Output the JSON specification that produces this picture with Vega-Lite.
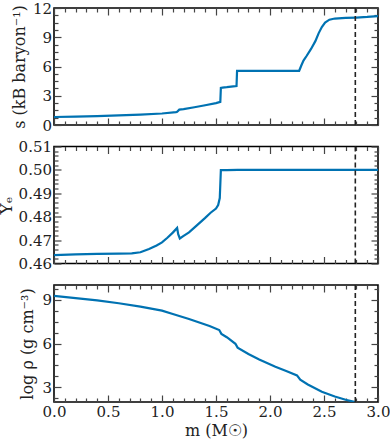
{
  "$schema": "https://vega.github.io/schema/vega-lite/v6.json",
  "padding": {"left": -4, "top": 0, "right": 0, "bottom": 0},
  "spacing": 21.5,
  "bounds": "flush",
  "config": {
    "font": "DejaVu Serif",
    "view": {"stroke": "black", "strokeWidth": 1.6},
    "axis": {
      "labelFont": "DejaVu Serif", "labelFontSize": 15, "labelColor": "#222",
      "titleFont": "DejaVu Serif", "titleFontSize": 16, "titleFontWeight": "normal", "titleColor": "#222",
      "domain": false, "grid": false, "tickColor": "#444", "tickWidth": 1.2,
      "labelOverlap": false, "labelFlush": false
    }
  },
  "datasets": {
    "s": [
      {"m": 0, "v": 0.82}, {"m": 0.2, "v": 0.86}, {"m": 0.4, "v": 0.91}, {"m": 0.6, "v": 0.98},
      {"m": 0.8, "v": 1.07}, {"m": 1.0, "v": 1.18}, {"m": 1.13, "v": 1.32}, {"m": 1.14, "v": 1.36},
      {"m": 1.16, "v": 1.58}, {"m": 1.2, "v": 1.63}, {"m": 1.3, "v": 1.82}, {"m": 1.4, "v": 2.03},
      {"m": 1.5, "v": 2.25}, {"m": 1.54, "v": 2.38}, {"m": 1.545, "v": 3.8}, {"m": 1.56, "v": 3.84},
      {"m": 1.6, "v": 3.88}, {"m": 1.66, "v": 3.96}, {"m": 1.69, "v": 4.0}, {"m": 1.695, "v": 5.55},
      {"m": 1.75, "v": 5.55}, {"m": 2.0, "v": 5.55}, {"m": 2.27, "v": 5.56}, {"m": 2.29, "v": 6.1},
      {"m": 2.31, "v": 6.6}, {"m": 2.34, "v": 7.1}, {"m": 2.38, "v": 7.8}, {"m": 2.42, "v": 8.6},
      {"m": 2.45, "v": 9.4}, {"m": 2.48, "v": 10.05}, {"m": 2.51, "v": 10.5}, {"m": 2.55, "v": 10.8},
      {"m": 2.6, "v": 10.92}, {"m": 2.7, "v": 10.98}, {"m": 2.8, "v": 11.02}, {"m": 2.9, "v": 11.08},
      {"m": 3.0, "v": 11.17}
    ],
    "ye": [
      {"m": 0, "v": 0.4636}, {"m": 0.2, "v": 0.4639}, {"m": 0.4, "v": 0.4641}, {"m": 0.6, "v": 0.4642},
      {"m": 0.72, "v": 0.4643}, {"m": 0.8, "v": 0.4648}, {"m": 0.88, "v": 0.4662}, {"m": 0.95, "v": 0.4677},
      {"m": 1.0, "v": 0.469}, {"m": 1.05, "v": 0.471}, {"m": 1.1, "v": 0.4732}, {"m": 1.14, "v": 0.4752},
      {"m": 1.15, "v": 0.4725}, {"m": 1.165, "v": 0.4707}, {"m": 1.2, "v": 0.4718}, {"m": 1.25, "v": 0.4733},
      {"m": 1.32, "v": 0.4762}, {"m": 1.4, "v": 0.4795}, {"m": 1.45, "v": 0.4817}, {"m": 1.5, "v": 0.4835},
      {"m": 1.52, "v": 0.485}, {"m": 1.535, "v": 0.488}, {"m": 1.545, "v": 0.4999}, {"m": 1.6, "v": 0.4999},
      {"m": 1.7, "v": 0.5}, {"m": 3.0, "v": 0.5}
    ],
    "rho": [
      {"m": 0, "v": 9.25}, {"m": 0.2, "v": 9.1}, {"m": 0.4, "v": 8.95}, {"m": 0.6, "v": 8.75},
      {"m": 0.8, "v": 8.52}, {"m": 1.0, "v": 8.25}, {"m": 1.1, "v": 8.02}, {"m": 1.25, "v": 7.68},
      {"m": 1.44, "v": 7.2}, {"m": 1.53, "v": 6.92}, {"m": 1.55, "v": 6.66}, {"m": 1.6, "v": 6.43},
      {"m": 1.68, "v": 5.98}, {"m": 1.7, "v": 5.72}, {"m": 1.8, "v": 5.28}, {"m": 1.9, "v": 4.9},
      {"m": 2.05, "v": 4.41}, {"m": 2.15, "v": 4.12}, {"m": 2.25, "v": 3.82}, {"m": 2.28, "v": 3.52},
      {"m": 2.35, "v": 3.2}, {"m": 2.48, "v": 2.7}, {"m": 2.6, "v": 2.38}, {"m": 2.7, "v": 2.15},
      {"m": 2.79, "v": 2.0}
    ],
    "cut_s": [{"m": 2.79, "lo": 0, "hi": 12}],
    "cut_ye": [{"m": 2.79, "lo": 0.46, "hi": 0.51}],
    "cut_rho": [{"m": 2.79, "lo": 2, "hi": 10}]
  },
  "vconcat": [
    {
      "width": 324, "height": 117,
      "layer": [
        {
          "data": {"name": "s"},
          "mark": {"type": "line", "color": "#0072b2", "strokeWidth": 2.2, "clip": true},
          "encoding": {
            "x": {"field": "m", "type": "quantitative", "scale": {"domain": [0, 3], "nice": false, "zero": false},
              "axis": {"orient": "bottom", "labels": false, "title": null,
                "values": [0,0.1,0.2,0.3,0.4,0.5,0.6,0.7,0.8,0.9,1,1.1,1.2,1.3,1.4,1.5,1.6,1.7,1.8,1.9,2,2.1,2.2,2.3,2.4,2.5,2.6,2.7,2.8,2.9,3],
                "tickSize": {"condition": {"test": "abs(datum.value*2 - round(datum.value*2)) < 0.000001", "value": -7}, "value": -4}}},
            "y": {"field": "v", "type": "quantitative", "scale": {"domain": [0, 12], "nice": false},
              "axis": {"orient": "left", "title": "s (kB baryon⁻¹)", "titlePadding": 5,
                "values": [0,0.75,1.5,2.25,3,3.75,4.5,5.25,6,6.75,7.5,8.25,9,9.75,10.5,11.25,12],
                "labelExpr": "abs(datum.value/3 - round(datum.value/3)) < 0.000001 ? format(datum.value, 'd') : ''",
                "labelPadding": 9.5,
                "tickSize": {"condition": {"test": "abs(datum.value/3 - round(datum.value/3)) < 0.000001", "value": -7}, "value": -4}}}
          }
        },
        {
          "data": {"name": "cut_s"},
          "mark": {"type": "rule", "color": "#222", "strokeWidth": 1.6, "strokeDash": [5, 3]},
          "encoding": {
            "x": {"field": "m", "type": "quantitative",
              "axis": {"orient": "top", "labels": false, "title": null,
                "values": [0,0.1,0.2,0.3,0.4,0.5,0.6,0.7,0.8,0.9,1,1.1,1.2,1.3,1.4,1.5,1.6,1.7,1.8,1.9,2,2.1,2.2,2.3,2.4,2.5,2.6,2.7,2.8,2.9,3],
                "tickSize": {"condition": {"test": "abs(datum.value*2 - round(datum.value*2)) < 0.000001", "value": -7}, "value": -4}}},
            "y": {"field": "lo", "type": "quantitative",
              "axis": {"orient": "right", "labels": false, "title": null,
                "values": [0,0.75,1.5,2.25,3,3.75,4.5,5.25,6,6.75,7.5,8.25,9,9.75,10.5,11.25,12],
                "tickSize": {"condition": {"test": "abs(datum.value/3 - round(datum.value/3)) < 0.000001", "value": -7}, "value": -4}}},
            "y2": {"field": "hi"}
          }
        }
      ],
      "resolve": {"axis": {"x": "independent", "y": "independent"}}
    },
    {
      "width": 324, "height": 117,
      "layer": [
        {
          "data": {"name": "ye"},
          "mark": {"type": "line", "color": "#0072b2", "strokeWidth": 2.2, "clip": true},
          "encoding": {
            "x": {"field": "m", "type": "quantitative", "scale": {"domain": [0, 3], "nice": false, "zero": false},
              "axis": {"orient": "bottom", "labels": false, "title": null,
                "values": [0,0.1,0.2,0.3,0.4,0.5,0.6,0.7,0.8,0.9,1,1.1,1.2,1.3,1.4,1.5,1.6,1.7,1.8,1.9,2,2.1,2.2,2.3,2.4,2.5,2.6,2.7,2.8,2.9,3],
                "tickSize": {"condition": {"test": "abs(datum.value*2 - round(datum.value*2)) < 0.000001", "value": -7}, "value": -4}}},
            "y": {"field": "v", "type": "quantitative", "scale": {"domain": [0.46, 0.51], "nice": false, "zero": false},
              "axis": {"orient": "left", "title": "Yₑ", "titlePadding": 3, "titleFontSize": 17,
                "values": [0.46,0.462,0.464,0.466,0.468,0.47,0.472,0.474,0.476,0.478,0.48,0.482,0.484,0.486,0.488,0.49,0.492,0.494,0.496,0.498,0.5,0.502,0.504,0.506,0.508,0.51],
                "labelExpr": "abs(datum.value*100 - round(datum.value*100)) < 0.000001 ? format(datum.value, '.2f') : ''",
                "labelPadding": 9.5,
                "tickSize": {"condition": {"test": "abs(datum.value*100 - round(datum.value*100)) < 0.000001", "value": -7}, "value": -4}}}
          }
        },
        {
          "data": {"name": "cut_ye"},
          "mark": {"type": "rule", "color": "#222", "strokeWidth": 1.6, "strokeDash": [5, 3]},
          "encoding": {
            "x": {"field": "m", "type": "quantitative",
              "axis": {"orient": "top", "labels": false, "title": null,
                "values": [0,0.1,0.2,0.3,0.4,0.5,0.6,0.7,0.8,0.9,1,1.1,1.2,1.3,1.4,1.5,1.6,1.7,1.8,1.9,2,2.1,2.2,2.3,2.4,2.5,2.6,2.7,2.8,2.9,3],
                "tickSize": {"condition": {"test": "abs(datum.value*2 - round(datum.value*2)) < 0.000001", "value": -7}, "value": -4}}},
            "y": {"field": "lo", "type": "quantitative",
              "axis": {"orient": "right", "labels": false, "title": null,
                "values": [0.46,0.462,0.464,0.466,0.468,0.47,0.472,0.474,0.476,0.478,0.48,0.482,0.484,0.486,0.488,0.49,0.492,0.494,0.496,0.498,0.5,0.502,0.504,0.506,0.508,0.51],
                "tickSize": {"condition": {"test": "abs(datum.value*100 - round(datum.value*100)) < 0.000001", "value": -7}, "value": -4}}},
            "y2": {"field": "hi"}
          }
        }
      ],
      "resolve": {"axis": {"x": "independent", "y": "independent"}}
    },
    {
      "width": 324, "height": 117,
      "layer": [
        {
          "data": {"name": "rho"},
          "mark": {"type": "line", "color": "#0072b2", "strokeWidth": 2.2, "clip": true},
          "encoding": {
            "x": {"field": "m", "type": "quantitative", "scale": {"domain": [0, 3], "nice": false, "zero": false},
              "axis": {"orient": "bottom", "title": "m (M☉)", "titlePadding": 0,
                "values": [0,0.1,0.2,0.3,0.4,0.5,0.6,0.7,0.8,0.9,1,1.1,1.2,1.3,1.4,1.5,1.6,1.7,1.8,1.9,2,2.1,2.2,2.3,2.4,2.5,2.6,2.7,2.8,2.9,3],
                "labelExpr": "abs(datum.value*2 - round(datum.value*2)) < 0.000001 ? format(datum.value, '.1f') : ''",
                "labelPadding": 9,
                "tickSize": {"condition": {"test": "abs(datum.value*2 - round(datum.value*2)) < 0.000001", "value": -7}, "value": -4}}},
            "y": {"field": "v", "type": "quantitative", "scale": {"domain": [2, 10], "nice": false, "zero": false},
              "axis": {"orient": "left", "title": "log ρ (g cm⁻³)", "titlePadding": 6,
                "values": [2.25,3,3.75,4.5,5.25,6,6.75,7.5,8.25,9,9.75],
                "labelExpr": "abs(datum.value/3 - round(datum.value/3)) < 0.000001 ? format(datum.value, 'd') : ''",
                "labelPadding": 9.5,
                "tickSize": {"condition": {"test": "abs(datum.value/3 - round(datum.value/3)) < 0.000001", "value": -7}, "value": -4}}}
          }
        },
        {
          "data": {"name": "cut_rho"},
          "mark": {"type": "rule", "color": "#222", "strokeWidth": 1.6, "strokeDash": [5, 3]},
          "encoding": {
            "x": {"field": "m", "type": "quantitative",
              "axis": {"orient": "top", "labels": false, "title": null,
                "values": [0,0.1,0.2,0.3,0.4,0.5,0.6,0.7,0.8,0.9,1,1.1,1.2,1.3,1.4,1.5,1.6,1.7,1.8,1.9,2,2.1,2.2,2.3,2.4,2.5,2.6,2.7,2.8,2.9,3],
                "tickSize": {"condition": {"test": "abs(datum.value*2 - round(datum.value*2)) < 0.000001", "value": -7}, "value": -4}}},
            "y": {"field": "lo", "type": "quantitative",
              "axis": {"orient": "right", "labels": false, "title": null,
                "values": [2.25,3,3.75,4.5,5.25,6,6.75,7.5,8.25,9,9.75],
                "tickSize": {"condition": {"test": "abs(datum.value/3 - round(datum.value/3)) < 0.000001", "value": -7}, "value": -4}}},
            "y2": {"field": "hi"}
          }
        }
      ],
      "resolve": {"axis": {"x": "independent", "y": "independent"}}
    }
  ]
}
